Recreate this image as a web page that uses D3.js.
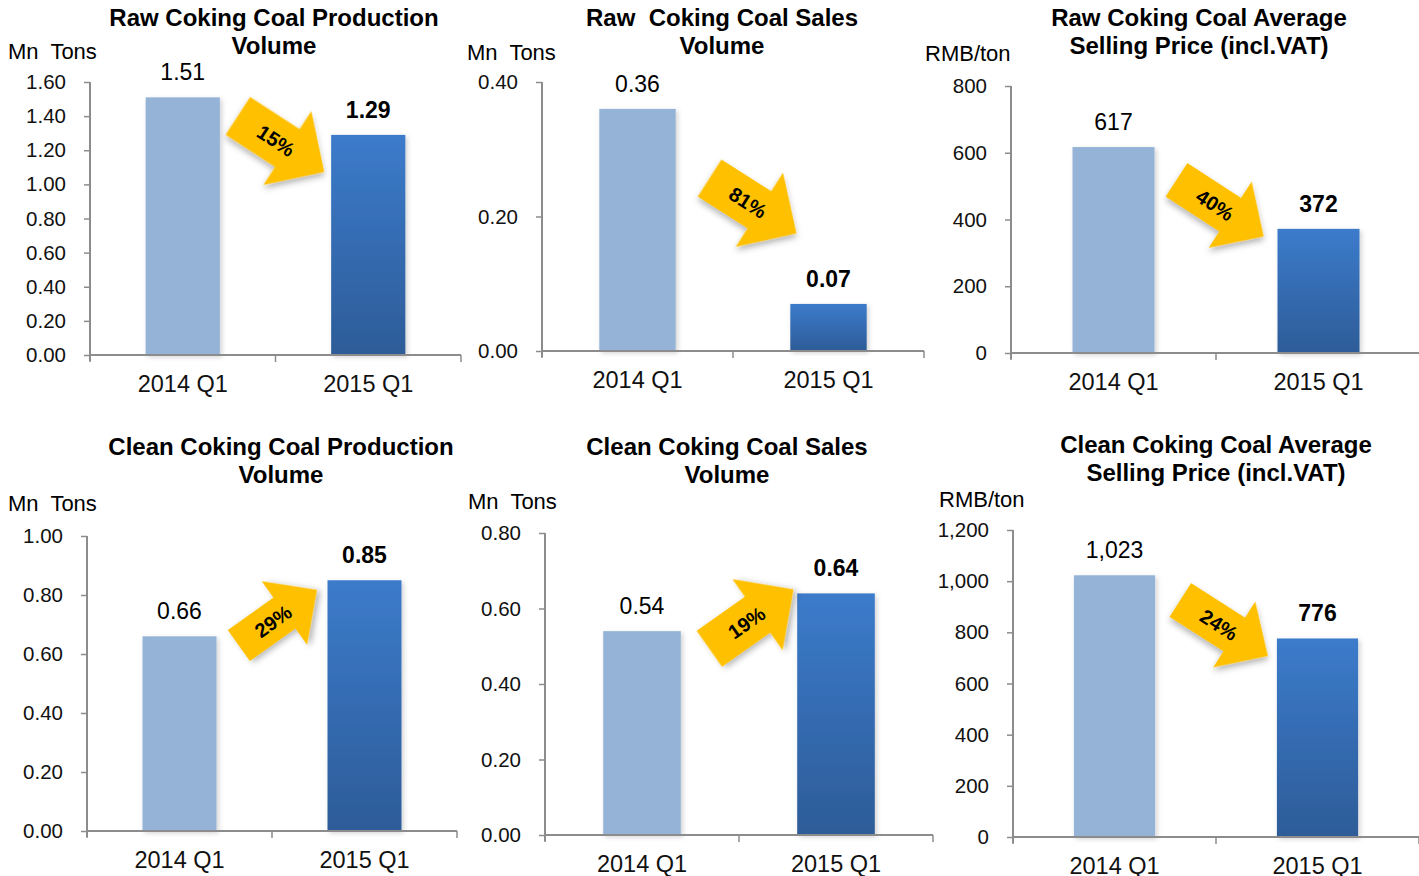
<!DOCTYPE html>
<html>
<head>
<meta charset="utf-8">
<script src="https://cdn.jsdelivr.net/npm/d3@7"></script>
<style>
  body { margin: 0; background: #fff; }
  svg { font-family: Arial, "Liberation Sans", sans-serif; }
</style>
</head>
<body>
<svg id="drawing_region"></svg>
<script>
// ---- data ----
const quarters = ['2014 Q1', '2015 Q1'];

const rawProduction = [1.51, 1.29];
const rawSales = [0.36, 0.07];
const rawPrice = [617, 372];
const cleanProduction = [0.66, 0.85];
const cleanSales = [0.54, 0.64];
const cleanPrice = [1023, 776];

const changeLabels = ['15%', '81%', '40%', '29%', '19%', '24%'];

const titles = [
    ['Raw Coking Coal Production', 'Volume'],
    ['Raw  Coking Coal Sales', 'Volume'],
    ['Raw Coking Coal Average', 'Selling Price (incl.VAT)'],
    ['Clean Coking Coal Production', 'Volume'],
    ['Clean Coking Coal Sales', 'Volume'],
    ['Clean Coking Coal Average', 'Selling Price (incl.VAT)']
];
const units = ['Mn  Tons', 'Mn  Tons', 'RMB/ton', 'Mn  Tons', 'Mn  Tons', 'RMB/ton'];

const yTicks = [
    [0, 0.2, 0.4, 0.6, 0.8, 1.0, 1.2, 1.4, 1.6],
    [0, 0.2, 0.4],
    [0, 200, 400, 600, 800],
    [0, 0.2, 0.4, 0.6, 0.8, 1.0],
    [0, 0.2, 0.4, 0.6, 0.8],
    [0, 200, 400, 600, 800, 1000, 1200]
];

// ---- layout (pixels) ----
const panels = [
    { values: rawProduction, left: 90, right: 461, top: 82, bottom: 355, fmt: '.2f', titleX: 274, titleY: 17, unitX: 8, unitY: 51,
      arrow: { pos: 0.53, at: 1.237, angle: 33, len: 103, shaft: 45, head: 88, headLen: 44 } },
    { values: rawSales, left: 542, right: 924, top: 82, bottom: 351, fmt: '.2f', titleX: 722, titleY: 17, unitX: 467, unitY: 52,
      arrow: { pos: 0.605, at: 0.216, angle: 32.5, len: 103, shaft: 44, head: 88, headLen: 44 } },
    { values: rawPrice, left: 1011, right: 1421, top: 86, bottom: 353, fmt: ',.0f', titleX: 1199, titleY: 17, unitX: 925, unitY: 53,
      arrow: { pos: 0.52, at: 434, angle: 33, len: 104, shaft: 40, head: 79, headLen: 40 } },
    { values: cleanProduction, left: 87, right: 457, top: 536, bottom: 831, fmt: '.2f', titleX: 281, titleY: 446, unitX: 8, unitY: 503,
      arrow: { pos: 0.532, at: 0.723, angle: -35.5, len: 96, shaft: 38, head: 78, headLen: 40 } },
    { values: cleanSales, left: 545, right: 933, top: 533, bottom: 835, fmt: '.2f', titleX: 727, titleY: 446, unitX: 468, unitY: 501,
      arrow: { pos: 0.564, at: 0.572, angle: -35.2, len: 103, shaft: 44, head: 87, headLen: 44 } },
    { values: cleanPrice, left: 1013, right: 1419, top: 530, bottom: 837, fmt: ',.0f', titleX: 1216, titleY: 444, unitX: 939, unitY: 499,
      arrow: { pos: 0.54, at: 817, angle: 32.6, len: 104, shaft: 40, head: 78, headLen: 40 } }
];

const axisColor = '#8c8c8c';

const svg = d3.select('#drawing_region')
    .attr('width', 1419)
    .attr('height', 876);

const defs = svg.append('defs');

const grad = defs.append('linearGradient')
    .attr('id', 'barGrad')
    .attr('x1', 0).attr('y1', 0).attr('x2', 0).attr('y2', 1);
grad.append('stop').attr('offset', '0%').attr('stop-color', '#3c7bcb');
grad.append('stop').attr('offset', '100%').attr('stop-color', '#2d5c98');

const shadow = defs.append('filter')
    .attr('id', 'shadow')
    .attr('x', '-30%').attr('y', '-30%').attr('width', '160%').attr('height', '160%');
shadow.append('feDropShadow')
    .attr('dx', 2).attr('dy', 3).attr('stdDeviation', 3)
    .attr('flood-color', '#000').attr('flood-opacity', 0.3);

const barShadow = defs.append('filter')
    .attr('id', 'barShadow')
    .attr('x', '-20%').attr('y', '-10%').attr('width', '140%').attr('height', '120%');
barShadow.append('feDropShadow')
    .attr('dx', 2).attr('dy', 2).attr('stdDeviation', 2.5)
    .attr('flood-color', '#000').attr('flood-opacity', 0.18);

// arrow outline along +x, centred on the origin
function arrowPath(a) {
    const h = a.len / 2, s = a.shaft / 2, hw = a.head / 2, neck = h - a.headLen;
    return d3.line()([
        [-h, -s], [neck, -s], [neck, -hw], [h, 0], [neck, hw], [neck, s], [-h, s]
    ]) + 'Z';
}

panels.forEach((p, i) => {
    const g = svg.append('g');

    const xscale = d3.scaleBand()
        .domain(quarters)
        .range([p.left, p.right])
        .paddingInner(0.6)
        .paddingOuter(0.3);

    const ticks = yTicks[i];
    const yscale = d3.scaleLinear()
        .domain([0, d3.max(ticks)])
        .range([p.bottom, p.top]);

    // title
    g.append('text')
        .attr('x', p.titleX)
        .attr('y', p.titleY)
        .attr('text-anchor', 'middle')
        .attr('font-size', '24px')
        .attr('font-weight', 'bold')
        .style('white-space', 'pre')
        .selectAll('tspan')
        .data(titles[i])
        .join('tspan')
        .attr('x', p.titleX)
        .attr('dy', (d, j) => j === 0 ? '0.36em' : '28px')
        .text(d => d);

    // unit
    g.append('text')
        .attr('x', p.unitX)
        .attr('y', p.unitY)
        .attr('dy', '0.36em')
        .attr('font-size', '22px')
        .style('white-space', 'pre')
        .text(units[i]);

    // y axis
    const yaxis = d3.axisLeft(yscale)
        .tickValues(ticks)
        .tickFormat(d3.format(p.fmt))
        .tickSize(6)
        .tickPadding(18)
        .tickSizeOuter(0);
    const yg = g.append('g')
        .attr('transform', `translate(${p.left},0)`)
        .call(yaxis);
    yg.select('.domain').remove();
    yg.selectAll('line').attr('stroke', axisColor).attr('stroke-width', 1.5);
    yg.selectAll('text').attr('font-size', '20.5px').attr('fill', '#111').attr('font-family', 'Arial, "Liberation Sans", sans-serif');
    g.append('line')
        .attr('x1', p.left).attr('x2', p.left)
        .attr('y1', p.top).attr('y2', p.bottom + 6)
        .attr('stroke', axisColor).attr('stroke-width', 2);

    // bars
    g.selectAll('rect.bar')
        .data(p.values)
        .join('rect')
        .attr('class', 'bar')
        .attr('x', (d, j) => xscale(quarters[j]))
        .attr('width', xscale.bandwidth())
        .attr('y', d => yscale(d))
        .attr('height', d => yscale(0) - yscale(d))
        .attr('fill', (d, j) => j === 0 ? '#95b3d7' : 'url(#barGrad)')
        .attr('filter', 'url(#barShadow)');

    // value labels
    g.selectAll('text.val')
        .data(p.values)
        .join('text')
        .attr('class', 'val')
        .attr('x', (d, j) => xscale(quarters[j]) + xscale.bandwidth() / 2)
        .attr('y', d => yscale(d) - 17)
        .attr('text-anchor', 'middle')
        .attr('font-size', '23px')
        .attr('font-weight', (d, j) => j === 0 ? 'normal' : 'bold')
        .text(d => d3.format(p.fmt)(d));

    // x axis
    const xaxis = d3.axisBottom(xscale)
        .tickSize(0)
        .tickPadding(20);
    const xg = g.append('g')
        .attr('transform', `translate(0,${p.bottom})`)
        .call(xaxis);
    xg.select('.domain').remove();
    xg.selectAll('text').attr('font-size', '23.5px').attr('fill', '#111').attr('font-family', 'Arial, "Liberation Sans", sans-serif');
    g.append('line')
        .attr('x1', p.left).attr('x2', p.right)
        .attr('y1', p.bottom).attr('y2', p.bottom)
        .attr('stroke', axisColor).attr('stroke-width', 2);
    const step = xscale.step();
    g.selectAll('line.xtick')
        .data(d3.range(quarters.length + 1))
        .join('line')
        .attr('class', 'xtick')
        .attr('x1', k => p.left + k * step).attr('x2', k => p.left + k * step)
        .attr('y1', p.bottom).attr('y2', p.bottom + 7)
        .attr('stroke', axisColor).attr('stroke-width', 1.5);

    // change arrow
    const c0 = xscale(quarters[0]) + xscale.bandwidth() / 2;
    const c1 = xscale(quarters[1]) + xscale.bandwidth() / 2;
    const ax = c0 + (c1 - c0) * p.arrow.pos;
    const ay = yscale(p.arrow.at);
    const ag = g.append('g')
        .attr('transform', `translate(${ax},${ay}) rotate(${p.arrow.angle})`);
    ag.append('path')
        .attr('d', arrowPath(p.arrow))
        .attr('fill', '#ffc000')
        .attr('filter', 'url(#shadow)');
    ag.append('text')
        .attr('x', -6)
        .attr('y', 0)
        .attr('dy', '0.36em')
        .attr('text-anchor', 'middle')
        .attr('font-size', '20px')
        .attr('font-weight', 'bold')
        .text(changeLabels[i]);
});
</script>
</body>
</html>
